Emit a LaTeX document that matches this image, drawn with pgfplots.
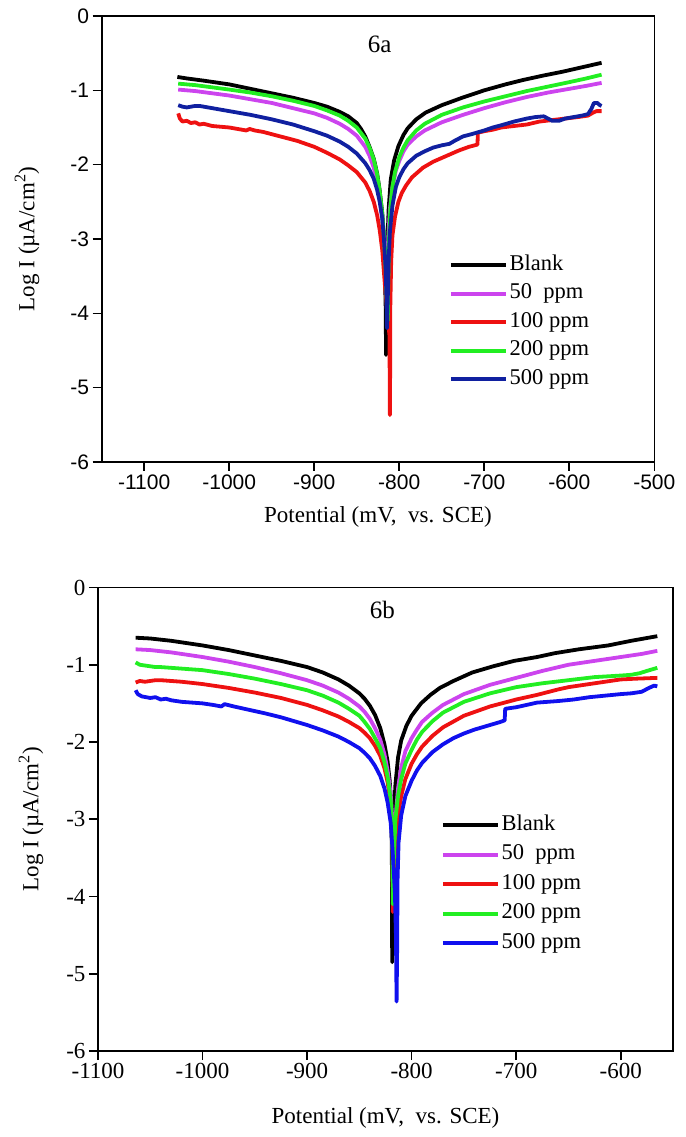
\documentclass[border=0pt]{standalone}
\usepackage{fontspec}
\setmainfont{Liberation Serif}
\newfontfamily\arialf{Liberation Sans}
\usepackage{pgfplots}
\pgfplotsset{compat=1.18}

\definecolor{cviolet}{RGB}{204,68,238}
\definecolor{cred}{RGB}{238,17,17}
\definecolor{cgreen}{RGB}{34,238,34}
\definecolor{cblueA}{RGB}{16,32,160}
\definecolor{cblueB}{RGB}{16,16,238}

\pgfplotsset{
  panel/.style={
    scale only axis,
    axis line style={line width=1.6pt},
    tick style={line width=1.6pt, black},
    major tick length=9pt,
    tick align=outside,
    tick pos=left,
    ymin=-6, ymax=0, ytick={-6,-5,...,0},
    scaled ticks=false,
    /pgf/number format/1000 sep={},
    /pgf/number format/assume math mode=true,
    label style={font=\fontsize{23}{23}\selectfont},
    every axis plot/.append style={line width=3.8pt, line join=round, no markers},
    legend image code/.code={\draw[#1] (0pt,0pt) -- (55pt,0pt);},
    legend cell align=left,
  }
}

\begin{document}
\begin{tikzpicture}
\useasboundingbox (0,0) rectangle (685pt,1137pt);

% ---------- 6a ----------
\begin{axis}[panel,
  at={(101.7pt,675pt)}, anchor=south west,
  width=552.6pt, height=446pt,
  xmin=-1150, xmax=-500, xtick={-1100,-1000,...,-500},
  ticklabel style={font=\arialf\fontsize{21}{21}\selectfont},
  xlabel={Potential (mV,\ \ vs. SCE)},
  ylabel={Log I (µA/cm\textsuperscript{2})},
  xlabel style={at={(axis description cs:0.5,-0.123)}, anchor=center},
  ylabel style={at={(axis description cs:-0.135,0.5)}, anchor=center},
  legend style={at={(0.628,0.4686)}, anchor=north west, draw=none, fill=none,
    inner sep=0pt, row sep=4.5pt, font=\fontsize{22.5}{22.5}\selectfont,
    nodes={inner sep=2pt, text height=15pt, text depth=5pt}},
]
\addplot[black] coordinates {(-1061,-0.82) (-1050,-0.84) (-1030,-0.87) (-1000,-0.92) (-975,-0.98) (-950,-1.04) (-925,-1.10) (-900,-1.17) (-885,-1.22) (-870,-1.29) (-860,-1.35) (-850,-1.44) (-845,-1.52) (-840,-1.62) (-835,-1.76) (-830,-1.92) (-826,-2.12) (-823,-2.35) (-820,-2.65) (-818,-3.0) (-817,-3.4) (-816,-3.9) (-815.5,-4.56) (-815,-4.0) (-814,-3.1) (-812.5,-2.6) (-810,-2.2) (-806,-1.94) (-801,-1.75) (-795,-1.6) (-790,-1.51) (-780,-1.39) (-769,-1.30) (-750,-1.2) (-726,-1.1) (-700,-1.0) (-675,-0.92) (-654,-0.86) (-630,-0.8) (-608,-0.75) (-585,-0.69) (-562,-0.63)};
\addlegendentry{Blank}
\addplot[cviolet] coordinates {(-1060,-0.99) (-1040,-1.01) (-1020,-1.04) (-1000,-1.07) (-975,-1.12) (-950,-1.17) (-925,-1.24) (-900,-1.31) (-885,-1.37) (-870,-1.45) (-860,-1.52) (-850,-1.61) (-840,-1.76) (-835,-1.88) (-830,-2.04) (-826,-2.24) (-823,-2.45) (-820,-2.72) (-818,-3.0) (-816,-3.45) (-815,-3.8) (-814,-3.5) (-813,-3.0) (-811,-2.6) (-808,-2.3) (-804,-2.08) (-800,-1.95) (-795,-1.82) (-790,-1.73) (-780,-1.62) (-770,-1.54) (-750,-1.43) (-725,-1.33) (-700,-1.24) (-675,-1.16) (-650,-1.09) (-625,-1.03) (-600,-0.98) (-580,-0.94) (-562,-0.90)};
\addlegendentry{50\ \ ppm}
\addplot[cred] coordinates {(-1060,-1.31) (-1058,-1.38) (-1055,-1.42) (-1050,-1.41) (-1045,-1.44) (-1040,-1.43) (-1035,-1.46) (-1030,-1.45) (-1020,-1.48) (-1010,-1.49) (-1000,-1.50) (-990,-1.52) (-980,-1.54) (-976,-1.52) (-970,-1.54) (-960,-1.56) (-950,-1.59) (-940,-1.62) (-920,-1.68) (-900,-1.76) (-885,-1.84) (-870,-1.93) (-860,-2.01) (-850,-2.10) (-840,-2.24) (-835,-2.35) (-830,-2.50) (-826,-2.68) (-823,-2.88) (-820,-3.15) (-817,-3.6) (-814,-4.0) (-811.5,-4.3) (-811,-5.37) (-810.5,-4.3) (-810.5,-3.9) (-809.5,-3.3) (-808,-2.95) (-805,-2.7) (-801,-2.5) (-797,-2.38) (-792,-2.28) (-785,-2.17) (-772,-2.04) (-760,-1.96) (-746,-1.89) (-730,-1.81) (-718,-1.76) (-708,-1.73) (-707.5,-1.57) (-700,-1.55) (-690,-1.53) (-680,-1.50) (-665,-1.48) (-650,-1.46) (-635,-1.42) (-620,-1.40) (-605,-1.38) (-590,-1.36) (-578,-1.34) (-572,-1.30) (-568,-1.28) (-562,-1.28)};
\addlegendentry{100 ppm}
\addplot[cgreen] coordinates {(-1060,-0.91) (-1040,-0.93) (-1020,-0.96) (-1000,-0.99) (-975,-1.03) (-950,-1.08) (-925,-1.14) (-900,-1.21) (-885,-1.27) (-870,-1.34) (-860,-1.41) (-850,-1.50) (-840,-1.65) (-835,-1.77) (-830,-1.93) (-826,-2.13) (-823,-2.36) (-820,-2.66) (-818,-2.95) (-816,-3.4) (-814.5,-3.9) (-813.5,-4.1) (-813,-3.6) (-812,-3.0) (-810.5,-2.6) (-808,-2.3) (-805,-2.1) (-800,-1.9) (-795,-1.77) (-790,-1.67) (-780,-1.54) (-770,-1.45) (-750,-1.33) (-725,-1.23) (-700,-1.15) (-675,-1.08) (-650,-1.01) (-625,-0.95) (-600,-0.89) (-580,-0.84) (-562,-0.79)};
\addlegendentry{200 ppm}
\addplot[cblueA] coordinates {(-1060,-1.20) (-1055,-1.22) (-1050,-1.23) (-1045,-1.22) (-1040,-1.21) (-1035,-1.21) (-1030,-1.22) (-1020,-1.24) (-1000,-1.28) (-975,-1.33) (-950,-1.39) (-925,-1.46) (-900,-1.55) (-885,-1.61) (-870,-1.69) (-860,-1.76) (-850,-1.85) (-840,-1.98) (-835,-2.07) (-830,-2.19) (-826,-2.34) (-823,-2.5) (-820,-2.72) (-818,-3.0) (-816,-3.4) (-815,-3.8) (-814.5,-4.2) (-813.5,-3.8) (-812.5,-3.3) (-811,-2.9) (-808,-2.55) (-804,-2.3) (-800,-2.17) (-795,-2.06) (-790,-1.98) (-780,-1.88) (-770,-1.82) (-760,-1.77) (-750,-1.74) (-741,-1.72) (-735,-1.68) (-725,-1.62) (-715,-1.59) (-700,-1.54) (-690,-1.5) (-680,-1.47) (-665,-1.42) (-650,-1.38) (-640,-1.36) (-630,-1.35) (-625,-1.38) (-620,-1.41) (-612,-1.41) (-605,-1.38) (-595,-1.36) (-585,-1.34) (-578,-1.32) (-574,-1.25) (-571,-1.17) (-567,-1.17) (-564,-1.2) (-562,-1.21)};
\addlegendentry{500 ppm}
\node[font=\fontsize{25}{25}\selectfont] at (axis cs:-823,-0.38) {6a};
\end{axis}

% ---------- 6b ----------
\begin{axis}[panel,
  at={(98pt,86pt)}, anchor=south west,
  width=575pt, height=463.5pt,
  xmin=-1100, xmax=-550, xtick={-1100,-1000,...,-600},
  ticklabel style={font=\fontsize{23}{23}\selectfont},
  xlabel={Potential (mV,\ \ vs. SCE)},
  ylabel={Log I (µA/cm\textsuperscript{2})},
  xlabel style={at={(axis description cs:0.5,-0.1446)}, anchor=center},
  ylabel style={at={(axis description cs:-0.1165,0.5)}, anchor=center},
  legend style={at={(0.596,0.5135)}, anchor=north west, draw=none, fill=none,
    inner sep=0pt, row sep=5.5pt, font=\fontsize{22.5}{22.5}\selectfont,
    nodes={inner sep=2pt, text height=15pt, text depth=5pt}},
]
\addplot[black] coordinates {(-1064,-0.65) (-1050,-0.66) (-1030,-0.69) (-1000,-0.75) (-975,-0.81) (-950,-0.88) (-925,-0.95) (-900,-1.03) (-885,-1.10) (-870,-1.19) (-860,-1.27) (-850,-1.37) (-845,-1.44) (-840,-1.53) (-835,-1.65) (-830,-1.82) (-826,-2.03) (-823,-2.25) (-821,-2.5) (-819.5,-2.8) (-818.9,-3.5) (-818.6,-4.85) (-818.2,-4.2) (-817.5,-3.1) (-815.5,-2.55) (-813,-2.2) (-810,-1.98) (-805,-1.79) (-800,-1.66) (-791,-1.5) (-782,-1.39) (-773,-1.30) (-760,-1.21) (-742,-1.10) (-722,-1.02) (-702,-0.95) (-680,-0.9) (-663,-0.85) (-640,-0.80) (-612,-0.75) (-590,-0.69) (-565,-0.63)};
\addlegendentry{Blank}
\addplot[cviolet] coordinates {(-1064,-0.80) (-1050,-0.81) (-1030,-0.84) (-1000,-0.90) (-975,-0.96) (-950,-1.03) (-925,-1.11) (-900,-1.20) (-885,-1.27) (-870,-1.36) (-860,-1.44) (-850,-1.54) (-845,-1.61) (-840,-1.70) (-835,-1.82) (-830,-1.97) (-826,-2.16) (-823,-2.37) (-820,-2.68) (-818.5,-3.0) (-817,-3.4) (-815.5,-3.0) (-813,-2.6) (-810,-2.33) (-806,-2.12) (-800,-1.95) (-795,-1.84) (-790,-1.74) (-780,-1.62) (-770,-1.52) (-750,-1.38) (-725,-1.26) (-700,-1.17) (-675,-1.08) (-650,-1.00) (-625,-0.95) (-600,-0.90) (-580,-0.86) (-565,-0.82)};
\addlegendentry{50\ \ ppm}
\addplot[cred] coordinates {(-1064,-1.23) (-1060,-1.21) (-1055,-1.22) (-1050,-1.21) (-1045,-1.20) (-1040,-1.20) (-1030,-1.21) (-1020,-1.22) (-1000,-1.25) (-975,-1.30) (-950,-1.36) (-925,-1.43) (-900,-1.52) (-885,-1.59) (-870,-1.67) (-860,-1.74) (-850,-1.82) (-845,-1.88) (-840,-1.95) (-835,-2.05) (-830,-2.18) (-826,-2.34) (-823,-2.52) (-820,-2.8) (-818.5,-3.2) (-818,-4.2) (-817.2,-3.9) (-815,-3.3) (-813,-2.95) (-810,-2.7) (-806,-2.48) (-800,-2.28) (-795,-2.16) (-790,-2.06) (-780,-1.92) (-770,-1.81) (-750,-1.66) (-725,-1.54) (-700,-1.45) (-680,-1.39) (-660,-1.32) (-650,-1.29) (-630,-1.25) (-610,-1.21) (-600,-1.19) (-585,-1.18) (-565,-1.17)};
\addlegendentry{100 ppm}
\addplot[cgreen] coordinates {(-1064,-0.97) (-1060,-1.00) (-1055,-1.01) (-1050,-1.02) (-1045,-1.03) (-1040,-1.03) (-1030,-1.04) (-1020,-1.05) (-1000,-1.07) (-975,-1.12) (-950,-1.18) (-925,-1.25) (-900,-1.33) (-885,-1.40) (-870,-1.49) (-860,-1.57) (-850,-1.66) (-845,-1.74) (-840,-1.83) (-835,-1.95) (-830,-2.08) (-826,-2.26) (-823,-2.45) (-820,-2.75) (-818.5,-3.2) (-818,-4.1) (-817.3,-3.6) (-815.5,-3.0) (-813,-2.7) (-810,-2.48) (-806,-2.28) (-800,-2.1) (-795,-1.97) (-790,-1.87) (-780,-1.73) (-770,-1.62) (-750,-1.48) (-725,-1.37) (-700,-1.29) (-675,-1.24) (-650,-1.20) (-625,-1.16) (-600,-1.14) (-590,-1.13) (-582,-1.11) (-575,-1.08) (-565,-1.04)};
\addlegendentry{200 ppm}
\addplot[cblueB] coordinates {(-1064,-1.33) (-1062,-1.38) (-1058,-1.41) (-1050,-1.43) (-1045,-1.42) (-1040,-1.45) (-1035,-1.44) (-1030,-1.46) (-1020,-1.48) (-1010,-1.49) (-1000,-1.50) (-990,-1.52) (-982,-1.54) (-979,-1.51) (-970,-1.54) (-960,-1.57) (-950,-1.60) (-940,-1.63) (-925,-1.68) (-900,-1.78) (-885,-1.85) (-870,-1.93) (-860,-2.0) (-850,-2.08) (-845,-2.14) (-840,-2.21) (-835,-2.31) (-830,-2.44) (-826,-2.6) (-823,-2.78) (-820,-3.05) (-818,-3.45) (-816,-3.95) (-815,-4.5) (-814.4,-5.36) (-813.8,-4.6) (-813.5,-3.8) (-812.5,-3.3) (-810,-2.95) (-806,-2.7) (-800,-2.5) (-795,-2.37) (-790,-2.27) (-780,-2.13) (-770,-2.03) (-760,-1.95) (-750,-1.89) (-740,-1.84) (-725,-1.78) (-715,-1.74) (-711,-1.72) (-710.5,-1.57) (-700,-1.55) (-690,-1.52) (-680,-1.49) (-670,-1.48) (-660,-1.47) (-645,-1.45) (-630,-1.42) (-615,-1.40) (-600,-1.38) (-590,-1.37) (-580,-1.35) (-573,-1.30) (-568,-1.27) (-565,-1.28)};
\addlegendentry{500 ppm}
\node[font=\fontsize{25}{25}\selectfont] at (axis cs:-828,-0.29) {6b};
\end{axis}
\end{tikzpicture}
\end{document}
